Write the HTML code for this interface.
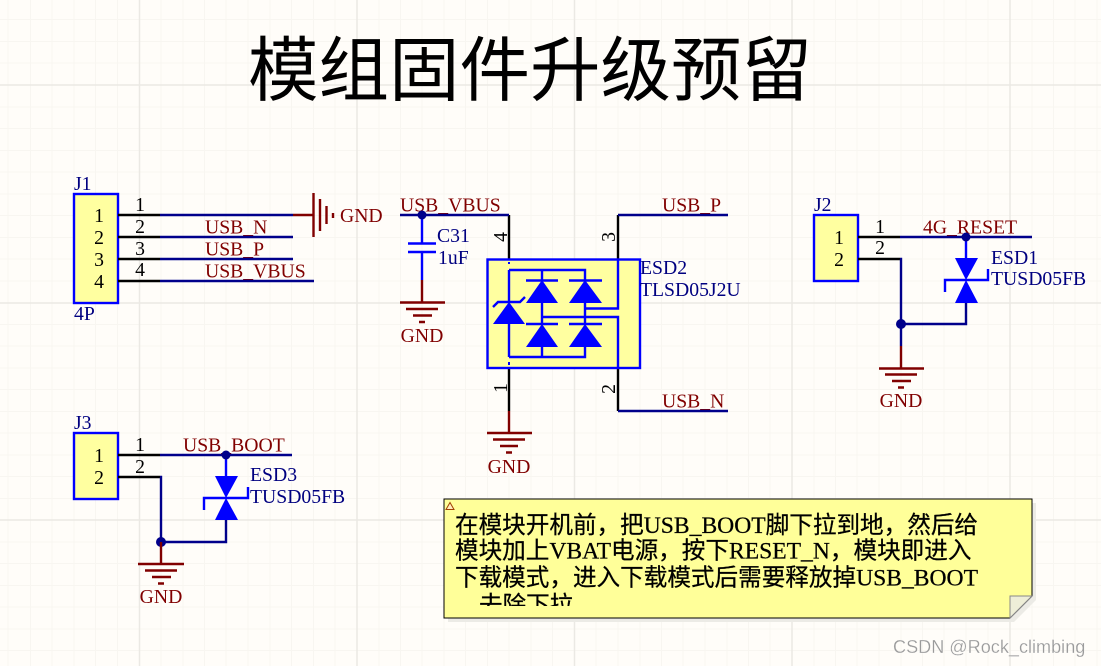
<!DOCTYPE html>
<html><head><meta charset="utf-8"><style>
html,body{margin:0;padding:0;background:#fffdf9;width:1101px;height:666px;overflow:hidden}
svg{display:block}
text{font-family:"Liberation Serif","Noto Serif CJK SC",serif;font-size:19.7px}
.n{fill:#800000}.c{fill:#000080}.k{fill:#000}
.z{font-family:"Liberation Serif","Noto Sans CJK SC",sans-serif;font-size:23.6px;fill:#000;stroke:#000;stroke-width:.25}
.w{fill:none;stroke:#00008b;stroke-width:2.4}
.p{fill:none;stroke:#000;stroke-width:2.4}
.b{fill:none;stroke:#0000ff;stroke-width:2.4}
.m{fill:none;stroke:#800000;stroke-width:2.4}
.g{stroke:#f8f6f1;stroke-width:1;fill:none}
.G{stroke:#ebe9e4;stroke-width:1.5;fill:none}
</style></head><body>
<svg width="1101" height="666" viewBox="0 0 1101 666" xmlns="http://www.w3.org/2000/svg">
<defs><clipPath id="nc"><rect x="444" y="499" width="588" height="107"/></clipPath></defs>
<path class="g" d="M8 0V666M30.5 0V666M52 0V666M74 0V666M95.500 0V666M117.500 0V666M161 0V666M183 0V666M204.500 0V666M226 0V666M248 0V666M270 0V666M291.500 0V666M313.500 0V666M335 0V666M379 0V666M400.500 0V666M422 0V666M444 0V666M465.500 0V666M487.500 0V666M509 0V666M531 0V666M552.500 0V666M596 0V666M618 0V666M640 0V666M661.500 0V666M683 0V666M705 0V666M727 0V666M748.500 0V666M770 0V666M814 0V666M835.500 0V666M857 0V666M879 0V666M901 0V666M922.500 0V666M944 0V666M966 0V666M988 0V666M1032 0V666M1053.500 0V666M1075 0V666M1097 0V666M0 19.500H1101M0 41.500H1101M0 63H1101M0 107H1101M0 128.500H1101M0 150.500H1101M0 172H1101M0 194H1101M0 215.500H1101M0 237.500H1101M0 259H1101M0 281H1101M0 324.500H1101M0 346H1101M0 368H1101M0 389.500H1101M0 411.500H1101M0 433H1101M0 455H1101M0 476.500H1101M0 498.500H1101M0 542H1101M0 563.500H1101M0 585.500H1101M0 607H1101M0 629H1101M0 650.500H1101"/>
<path class="G" d="M139.500 0V666M357 0V666M574.500 0V666M792 0V666M1010 0V666M0 85H1101M0 303H1101M0 520H1101"/>

<text x="248" y="95" style="font-family:'Noto Sans CJK SC',sans-serif;font-size:70.500px" fill="#000">模组固件升级预留</text>

<!-- J1 -->
<rect x="74" y="194" width="44" height="109" fill="#ffffa0" stroke="#0000ff" stroke-width="2.400"/>
<text class="n" x="205" y="233.500">USB_N</text><text class="n" x="205" y="255.500">USB_P</text><text class="n" x="205" y="277.500">USB_VBUS</text>
<path class="p" d="M118 215H160M118 237H160M118 259H160M118 281H160"/>
<path class="w" d="M160 215H293M160 237H293M160 259H293M160 281H314"/>
<path class="m" d="M293 215H314M313.500 193V237"/>
<path d="M320 199V231M326.500 206V224M333 213V218" fill="none" stroke="#800000" stroke-width="2.400"/>
<text class="n" x="340" y="222">GND</text>
<text class="c" x="74" y="190">J1</text><text class="c" x="74" y="320">4P</text>
<g class="k" text-anchor="end"><text x="104" y="222">1</text><text x="104" y="244">2</text><text x="104" y="266">3</text><text x="104" y="288">4</text></g>
<g class="k" text-anchor="middle"><text x="140" y="211">1</text><text x="140" y="233">2</text><text x="140" y="255">3</text><text x="140" y="276">4</text></g>

<!-- ESD2 -->
<text class="n" x="400" y="211.500">USB_VBUS</text><text class="n" x="662" y="211.500">USB_P</text><text class="n" x="662" y="407.500">USB_N</text>
<path class="p" d="M509 215V259M618 215V259M509 368V411M618 368V411"/>
<path class="w" d="M400 215H509M618 215H728M618 411H728"/>
<rect x="487.500" y="259.500" width="152.500" height="108.500" fill="#ffffa0" stroke="#0000ff" stroke-width="2.400"/>
<path class="b" d="M509 270V303M509 324V357M509 270H585V281M542 270V281M585 303V324M542 303V324M618 259V308.500H585M542 317H618V368M509 357H585V346M542 357V346"/>
<path class="b" d="M526 280.500H558M569 280.500H602M526 324H558M569 324H602M493 307L498 302H520L525 297"/>
<path fill="#0000ff" d="M542 280L558 303H526ZM585 280L602 303H569ZM542 324L558 347H526ZM585 324L602 347H569ZM509 302L525 324H493Z"/>
<path d="M509 262V264M509 362V365" stroke="#0000ff" stroke-width="2" fill="none"/>
<text class="c" x="640" y="274">ESD2</text><text class="c" x="640" y="296">TLSD05J2U</text>
<g class="k" text-anchor="middle"><text transform="translate(507,237) rotate(-90)">4</text><text transform="translate(615,237) rotate(-90)">3</text><text transform="translate(507,388) rotate(-90)">1</text><text transform="translate(615,389) rotate(-90)">2</text></g>
<path class="m" d="M509 411V433M487 433H532M493 439.500H525M500 446H518M506 452.500H512"/>
<text class="n" x="509" y="473" text-anchor="middle">GND</text>

<!-- C31 -->
<path class="b" d="M422 215V243.500M408 243.500H436M408 252H436M422 252V280"/>
<circle cx="422" cy="215" r="4.500" fill="#00008b"/>
<path class="m" d="M422 280V302M400 302.500H445M406 309H438M413 315.500H432M419 322H425"/>
<text class="c" x="437" y="242">C31</text><text class="c" x="438" y="264">1uF</text>
<text class="n" x="422" y="342" text-anchor="middle">GND</text>

<!-- J2 -->
<rect x="814" y="215" width="44" height="66" fill="#ffffa0" stroke="#0000ff" stroke-width="2.400"/>
<text class="n" x="923" y="233.500">4G_RESET</text>
<path class="p" d="M858 237H900M858 259H900"/>
<path class="w" d="M900 237H1032M900 259H901V346M901 324H966V303"/>
<path class="b" d="M966 237V258M945 292V280H988V269"/>
<path fill="#0000ff" d="M955 258H978L966 280ZM966 280L978 303H955Z"/>
<circle cx="966" cy="237" r="4.500" fill="#00008b"/><circle cx="901" cy="324" r="5" fill="#00008b"/>
<path class="m" d="M901 346V368M879 368.500H924M885 374.500H917M892 381H911M898 387.500H904"/>
<text class="c" x="814" y="211">J2</text>
<g class="k" text-anchor="end"><text x="844" y="244">1</text><text x="844" y="266">2</text></g>
<g class="k" text-anchor="middle"><text x="880" y="233">1</text><text x="880" y="254">2</text></g>
<text class="c" x="991" y="264">ESD1</text><text class="c" x="991" y="285">TUSD05FB</text>
<text class="n" x="901" y="407" text-anchor="middle">GND</text>

<!-- J3 -->
<rect x="74" y="433" width="44" height="66" fill="#ffffa0" stroke="#0000ff" stroke-width="2.400"/>
<text class="n" x="183" y="451.500">USB_BOOT</text>
<path class="p" d="M118 455H160M118 477H160"/>
<path class="w" d="M160 455H292M160 477H161V542M161 542H226V520"/>
<path class="b" d="M226 455V476M204 510V498H248V487"/>
<path fill="#0000ff" d="M215 476H238L226 498ZM226 498L238 520H215Z"/>
<circle cx="226" cy="455" r="4.500" fill="#00008b"/><circle cx="161" cy="542" r="5" fill="#00008b"/>
<path class="m" d="M161 542V564M138 564H184M145 570.500H177M152 577H171M158 583.500H164"/>
<text class="c" x="74" y="429">J3</text>
<g class="k" text-anchor="end"><text x="104" y="462">1</text><text x="104" y="484">2</text></g>
<g class="k" text-anchor="middle"><text x="140" y="451">1</text><text x="140" y="473">2</text></g>
<text class="c" x="250" y="481">ESD3</text><text class="c" x="250" y="503">TUSD05FB</text>
<text class="n" x="161" y="603" text-anchor="middle">GND</text>

<!-- Note -->
<path d="M448 503H1036V600L1014 622H448Z" fill="#ecebe6"/>
<path d="M444 499H1032V596L1010 618H444Z" fill="#ffff99" stroke="#000" stroke-width="1"/>
<path d="M1010 596H1032L1010 618Z" fill="#eeeed8" stroke="#888" stroke-width="1"/>
<path d="M450 502.500L454 509.500H446Z" fill="#ffeebb" stroke="#a04000" stroke-width="1"/>
<g clip-path="url(#nc)">
<text class="z" x="455" y="533">在模块开机前，把USB_BOOT脚下拉到地，然后给</text>
<text class="z" x="455" y="558.500">模块加上VBAT电源，按下RESET_N，模块即进入</text>
<text class="z" x="455" y="585.500">下载模式，进入下载模式后需要释放掉USB_BOOT</text>
<text class="z" x="479" y="613">去除下拉</text>
</g>

<text x="893" y="653" style="font-family:'Liberation Sans',sans-serif;font-size:18.100px" fill="#9a9a9a" stroke="#fff" stroke-width="0.200">CSDN @Rock_climbing</text>
</svg>
</body></html>
